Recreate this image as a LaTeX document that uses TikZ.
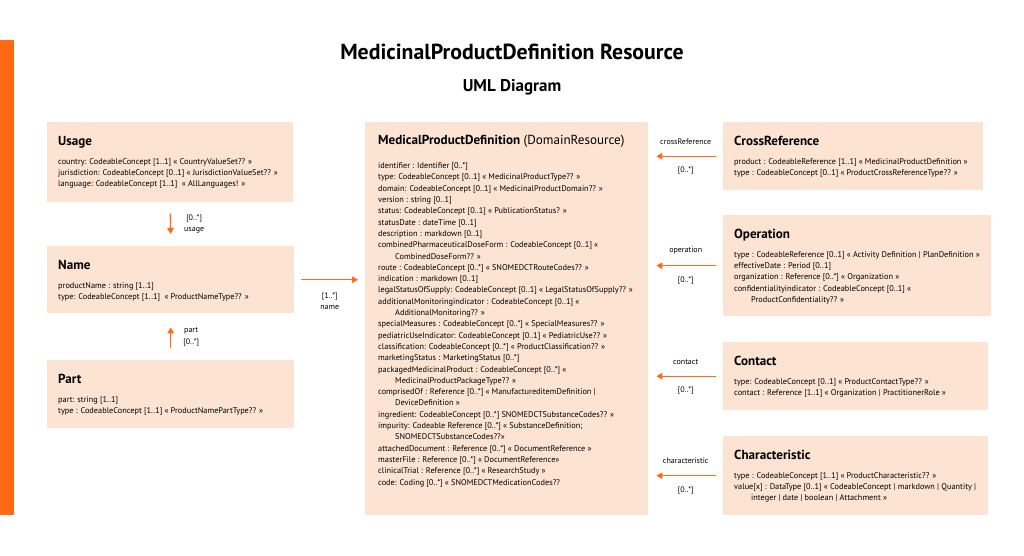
\documentclass[tikz,border=0pt]{standalone}
\usepackage{fontspec}
\setmainfont{PT Sans}
\usetikzlibrary{positioning,arrows.meta}
\definecolor{umlorange}{HTML}{FF6A13}
\definecolor{umlpeach}{HTML}{FDE3D2}
\newcommand{\wrapind}{\hspace*{17pt}}

\begin{document}
\begin{tikzpicture}[x=1pt, y=-1pt,
    box/.style={fill=umlpeach, anchor=north west, inner sep=0pt},
    boxtitle/.style={inner sep=0pt, font=\fontsize{13.1}{15}\selectfont\bfseries},
    attrs/.style={inner sep=0pt, align=left, font=\fontsize{8.3}{11.3}\selectfont},
    role/.style={inner sep=0pt, align=center, font=\fontsize{8}{11.5}\selectfont},
    link/.style={draw=umlorange, line width=1.3pt, -{Triangle[length=6pt,width=6.5pt]}}]
    \useasboundingbox (0,0) rectangle (1024,555);
    \fill[umlorange] (0,40) rectangle (14,515);
    \node[font=\fontsize{21.8}{26}\selectfont\bfseries, anchor=base] (title) at (512,59) {MedicinalProductDefinition Resource};
    \node[font=\fontsize{17}{20}\selectfont\bfseries, anchor=base] (subtitle) at (512,91) {UML Diagram};

    % left column
    \node[box, minimum width=246pt, minimum height=80pt] (usage) at (47,122) {};
    \node[boxtitle, below right=14pt and 11pt of usage.north west] (usagetitle) {Usage};
    \node[attrs, below right=36pt and 11pt of usage.north west] (usageattrs) {country: CodeableConcept [1..1] « CountryValueSet?? »\\
      jurisdiction: CodeableConcept [0..1] « JurisdictionValueSet?? »\\
      language: CodeableConcept [1..1] \ « AllLanguages! »};

    \node[box, minimum width=247pt, minimum height=67pt] (nm) at (47,246) {};
    \node[boxtitle, below right=14pt and 11pt of nm.north west] (nmtitle) {Name};
    \node[attrs, below right=36pt and 11pt of nm.north west] (nmattrs) {productName : string [1..1]\\
      type: CodeableConcept [1..1] \ « ProductNameType?? »};

    \node[box, minimum width=247pt, minimum height=68pt] (part) at (47,360) {};
    \node[boxtitle, below right=14pt and 11pt of part.north west] (parttitle) {Part};
    \node[attrs, below right=36pt and 11pt of part.north west] (partattrs) {part: string [1..1]\\
      type : CodeableConcept [1..1] « ProductNamePartType?? »};

    % resource
    \node[box, minimum width=283pt, minimum height=393pt] (mpd) at (365,122) {};
    \node[boxtitle, below right=13pt and 13pt of mpd.north west] (mpdtitle) {MedicalProductDefinition \mdseries(DomainResource)};
    \node[attrs, below right=40.5pt and 13pt of mpd.north west] (mpdattrs) {identifier : Identifier [0..*]\\
      type: CodeableConcept [0..1] « MedicinalProductType?? »\\
      domain: CodeableConcept [0..1] « MedicinalProductDomain?? »\\
      version : string [0..1]\\
      status: CodeableConcept [0..1] « PublicationStatus? »\\
      statusDate : dateTime [0..1]\\
      description : markdown [0..1]\\
      combinedPharmaceuticalDoseForm : CodeableConcept [0..1] «\\
      \wrapind CombinedDoseForm?? »\\
      route : CodeableConcept [0..*] « SNOMEDCTRouteCodes?? »\\
      indication : markdown [0..1]\\
      legalStatusOfSupply: CodeableConcept [0..1] « LegalStatusOfSupply?? »\\
      additionalMonitoringindicator : CodeableConcept [0..1] «\\
      \wrapind AdditionalMonitoring?? »\\
      specialMeasures : CodeableConcept [0..*] « SpecialMeasures?? »\\
      pediatricUseIndicator: CodeableConcept [0..1] « PediatricUse?? »\\
      classification: CodeableConcept [0..*] « ProductClassification?? »\\
      marketingStatus : MarketingStatus [0..*]\\
      packagedMedicinalProduct : CodeableConcept [0..*] «\\
      \wrapind MedicinalProductPackageType?? »\\
      comprisedOf : Reference [0..*] « ManufactureditemDefinition |\\
      \wrapind DeviceDefinition »\\
      ingredient: CodeableConcept [0..*] SNOMEDCTSubstanceCodes?? »\\
      impurity: Codeable Reference [0..*] « SubstanceDefinition;\\
      \wrapind SNOMEDCTSubstanceCodes??»\\
      attachedDocument : Reference [0..*] « DocumentReference »\\
      masterFile : Reference [0..*] « DocumentReference»\\
      clinicalTrial : Reference [0..*] « ResearchStudy »\\
      code: Coding [0..*] « SNOMEDCTMedicationCodes??};

    % right column
    \node[box, minimum width=260pt, minimum height=68pt] (crossref) at (723,122) {};
    \node[boxtitle, below right=14pt and 11pt of crossref.north west] (crossreftitle) {CrossReference};
    \node[attrs, below right=36pt and 11pt of crossref.north west] (crossrefattrs) {product : CodeableReference [1..1] « MedicinalProductDefinition »\\
      type : CodeableConcept [0..1] « ProductCrossReferenceType?? »};

    \node[box, minimum width=268pt, minimum height=101pt] (oper) at (723,215) {};
    \node[boxtitle, below right=14pt and 11pt of oper.north west] (opertitle) {Operation};
    \node[attrs, below right=36pt and 11pt of oper.north west] (operattrs) {type : CodeableReference [0..1] « Activity Definition | PlanDefinition »\\
      effectiveDate : Period [0..1]\\
      organization : Reference [0..*] « Organization »\\
      confidentialityindicator : CodeableConcept [0..1] «\\
      \wrapind ProductConfidentiality?? »};

    \node[box, minimum width=265pt, minimum height=68pt] (contact) at (723,342) {};
    \node[boxtitle, below right=14pt and 11pt of contact.north west] (contacttitle) {Contact};
    \node[attrs, below right=36pt and 11pt of contact.north west] (contactattrs) {type: CodeableConcept [0..1] « ProductContactType?? »\\
      contact : Reference [1..1] « Organization | PractitionerRole »};

    \node[box, minimum width=265pt, minimum height=79pt] (charac) at (723,436) {};
    \node[boxtitle, below right=14pt and 11pt of charac.north west] (charactitle) {Characteristic};
    \node[attrs, below right=36pt and 11pt of charac.north west] (characattrs) {type : CodeableConcept [1..1] « ProductCharacteristic?? »\\
      value[x] : DataType [0..1] « CodeableConcept | markdown | Quantity |\\
      \wrapind integer | date | boolean | Attachment »};

    % links
    \draw[link, shorten <=11pt, shorten >=12pt] (usage.south) -- (nm.north)
      node[role, midway, right=13pt] {[0..*]\\usage};
    \draw[link, shorten <=12pt, shorten >=14pt] (part.north) -- (nm.south)
      node[role, midway, right=12pt] {part\\{[0..*]}};
    \draw[link, shorten <=7pt, shorten >=7pt] (nm.east) -- (mpd.west |- nm.east)
      node[role, midway, below=12pt] {[1..*]\\name};
    \draw[link, shorten <=7pt, shorten >=8pt] (crossref.west) -- (mpd.east |- crossref.west)
      node[role, midway, above=11pt] {crossReference}
      node[role, midway, below=10pt] {[0..*]};
    \draw[link, shorten <=7pt, shorten >=8pt] (oper.west) -- (mpd.east |- oper.west)
      node[role, midway, above=11pt] {operation}
      node[role, midway, below=10pt] {[0..*]};
    \draw[link, shorten <=7pt, shorten >=8pt] (contact.west) -- (mpd.east |- contact.west)
      node[role, midway, above=11pt] {contact}
      node[role, midway, below=10pt] {[0..*]};
    \draw[link, shorten <=7pt, shorten >=8pt] (charac.west) -- (mpd.east |- charac.west)
      node[role, midway, above=11pt] {characteristic}
      node[role, midway, below=10pt] {[0..*]};
\end{tikzpicture}
\end{document}
